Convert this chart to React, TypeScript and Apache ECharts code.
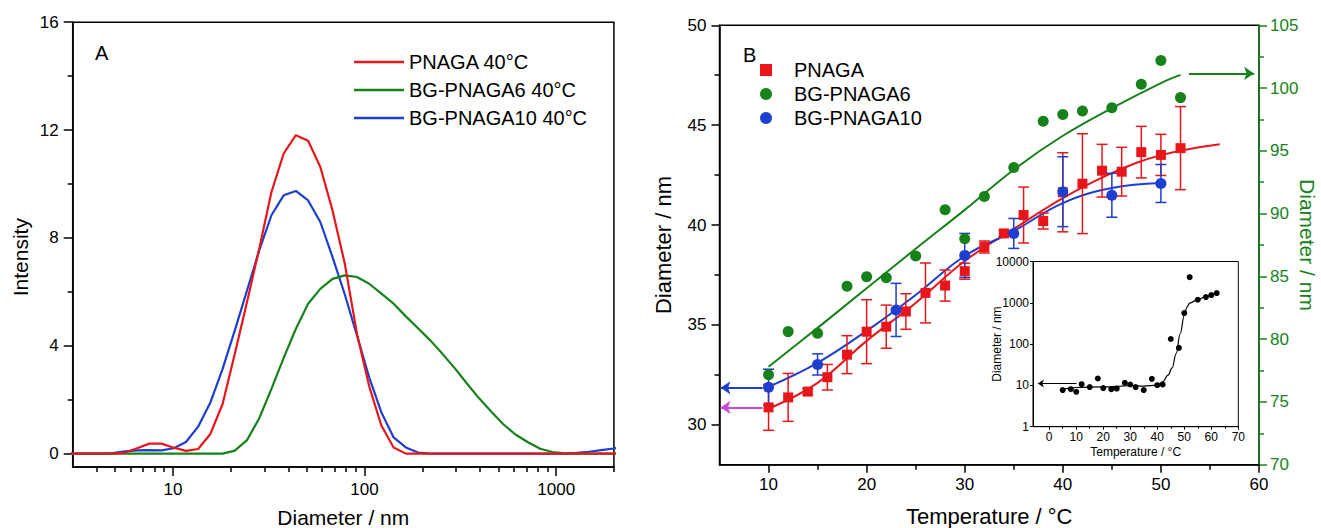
import React, { useEffect, useRef } from "react";
import * as echarts from "echarts";

const FONT = "'Liberation Sans', Arial, Helvetica, sans-serif";
const RED = "#e8161b";
const GREEN = "#17821a";
const BLUE = "#1d3ecf";
const MAGENTA = "#c84bd6";
const BLACK = "#000000";

// ---------- Panel A: DLS size distributions at 40 °C ----------
const dlsBins = [
  2.696, 3.122, 3.615, 4.187, 4.849, 5.615, 6.503, 7.531, 8.721, 10.1, 11.7, 13.54,
  15.69, 18.17, 21.04, 24.36, 28.21, 32.67, 37.84, 43.82, 50.75, 58.77, 68.06, 78.82,
  91.28, 105.7, 122.4, 141.8, 164.2, 190.1, 220.2, 255.0, 295.3, 342.0, 396.1, 458.7,
  531.2, 615.1, 712.4, 825.0, 955.4, 1106, 1281, 1484, 1718, 1990, 2305,
];
const pnagaIntensity = [
  0, 0, 0, 0, 0, 0.03, 0.2, 0.37, 0.37, 0.22, 0.1, 0.17,
  0.73, 1.84, 3.7, 5.62, 7.6, 9.7, 11.13, 11.81, 11.6, 10.63, 9.02, 7.05,
  4.45, 2.5, 1.04, 0.23, 0, 0, 0, 0, 0, 0, 0, 0,
  0, 0, 0, 0, 0, 0, 0, 0, 0, 0, 0,
];
const bg6Intensity = [
  0, 0, 0, 0, 0, 0, 0, 0, 0, 0, 0, 0,
  0, 0, 0.11, 0.5, 1.31, 2.4, 3.55, 4.63, 5.56, 6.11, 6.48, 6.61,
  6.55, 6.3, 5.93, 5.56, 5.09, 4.65, 4.2, 3.7, 3.17, 2.6, 2.05, 1.55,
  1.08, 0.7, 0.42, 0.18, 0.06, 0.01, 0, 0, 0, 0, 0,
];
const bg10Intensity = [
  0, 0, 0, 0, 0.02, 0.08, 0.12, 0.13, 0.12, 0.2, 0.43, 1.0,
  1.9, 3.14, 4.57, 6.05, 7.54, 8.84, 9.58, 9.74, 9.39, 8.59, 7.29, 5.91,
  4.38, 2.83, 1.53, 0.6, 0.23, 0.04, 0, 0, 0, 0, 0, 0,
  0, 0, 0, 0, 0, 0, 0.03, 0.07, 0.13, 0.19, 0.27,
];
const aLegend = ["PNAGA 40°C", "BG-PNAGA6 40°C", "BG-PNAGA10 40°C"];
const aMajorX = [10, 100, 1000];
const aMinorX = [4, 5, 6, 7, 8, 9, 20, 30, 40, 50, 60, 70, 80, 90, 200, 300, 400, 500, 600, 700, 800, 900, 2000];
const aMajorY = [0, 4, 8, 12, 16];
const aMinorY = [2, 6, 10, 14];

// ---------- Panel B: diameter vs temperature ----------
const pnagaTemp = [10, 12, 14, 16, 18, 20, 22, 24, 26, 28, 30, 32, 34, 36, 38, 40, 42, 44, 46, 48, 50, 52];
const pnagaDiam = [30.87, 31.37, 31.66, 32.38, 33.51, 34.66, 34.91, 35.67, 36.6, 36.97, 37.69, 38.9, 39.58, 40.5, 40.2, 41.64, 42.07, 42.72, 42.67, 43.65, 43.51, 43.85];
const pnagaErr = [1.15, 1.2, 0.15, 0.64, 0.95, 1.6, 1.08, 0.89, 1.5, 0.78, 0.4, 0.3, 0.15, 1.4, 0.4, 1.98, 2.5, 1.32, 1.22, 1.29, 1.03, 2.08];

const bg6Temp = [10, 12, 15, 18, 20, 22, 25, 28, 30, 32, 35, 38, 40, 42, 45, 48, 50, 52];
const bg6Diam = [77.17, 80.6, 80.47, 84.22, 84.97, 84.89, 86.63, 90.3, 88.0, 91.36, 93.67, 97.36, 97.9, 98.17, 98.44, 100.31, 102.19, 99.24];

const bg10Temp = [10, 15, 23, 30, 35, 40, 45, 50];
const bg10Diam = [31.88, 33.02, 35.75, 38.48, 39.58, 41.67, 41.49, 42.08];
const bg10Err = [0.9, 0.53, 1.33, 1.1, 0.75, 1.75, 1.1, 0.95];

const pnagaFitT = [10, 15, 20, 25, 30, 35, 40, 45, 50, 56];
const pnagaFitD = [30.8, 32.1, 34.2, 36.1, 38.2, 39.8, 41.35, 42.6, 43.5, 44.05];
const bg6FitT = [10, 15, 20, 25, 30, 35, 40, 45, 50, 52];
const bg6FitD = [77.8, 80.9, 84.05, 87.2, 90.3, 93.5, 96.2, 98.4, 100.4, 101.05];
const bg10FitT = [10, 15, 20, 25, 30, 35, 40, 45, 50];
const bg10FitD = [31.9, 33.1, 34.7, 36.5, 38.45, 39.7, 41.1, 41.85, 42.1];

const bLegend = ["PNAGA", "BG-PNAGA6", "BG-PNAGA10"];
const bMajorX = [10, 20, 30, 40, 50, 60];
const bMinorX = [15, 25, 35, 45, 55];
const bLeftMajor = [30, 35, 40, 45, 50];
const bLeftMinor = [32.5, 37.5, 42.5, 47.5];
const bRightMajor = [70, 75, 80, 85, 90, 95, 100, 105];
const bRightMinor = [72.5, 77.5, 82.5, 87.5, 92.5, 97.5, 102.5];

// ---------- Inset ----------
const insetTemp = [5, 8, 10, 12, 15, 18, 20, 23, 25, 28, 30, 32, 35, 38, 40, 42, 45, 48, 50, 52, 55, 58, 60, 62];
const insetDiam = [7.7, 8.1, 7.0, 10.7, 9.1, 14.7, 8.6, 8.1, 8.4, 11.5, 10.5, 9.1, 7.7, 14.4, 10.1, 10.5, 133, 81, 565, 4170, 1187, 1377, 1538, 1720];
const insetFitT = [5, 10, 20, 30, 35, 40, 42, 44, 45.5, 47, 48.5, 50, 51, 52, 55, 58, 62];
const insetFitD = [8.0, 8.9, 9.25, 9.8, 9.6, 10.1, 12.2, 17.7, 26.5, 59, 180, 500, 790, 980, 1200, 1430, 1720];
const insetMajorX = [0, 10, 20, 30, 40, 50, 60, 70];
const insetMinorX = [5, 15, 25, 35, 45, 55, 65];
const insetMajorY = [1, 10, 100, 1000, 10000];

const zip = (a: number[], b: number[]) => a.map((v, i) => [v, b[i]]);

function errorBar(color: string) {
  return (_params: any, api: any) => {
    const x = api.value(0);
    const y = api.value(1);
    const e = api.value(2);
    const top = api.coord([x, y + e]);
    const bot = api.coord([x, y - e]);
    const hw = 5.5;
    const style = { stroke: color, lineWidth: 1.5, fill: null };
    return {
      type: "group",
      children: [
        { type: "line", shape: { x1: top[0], y1: top[1], x2: bot[0], y2: bot[1] }, style },
        { type: "line", shape: { x1: top[0] - hw, y1: top[1], x2: top[0] + hw, y2: top[1] }, style },
        { type: "line", shape: { x1: bot[0] - hw, y1: bot[1], x2: bot[0] + hw, y2: bot[1] }, style },
      ],
    };
  };
}

function makeAxis(p: any) {
  const color = p.color || BLACK;
  const lw = p.lineWidth ?? 1.5;
  const ax: any = {
    gridIndex: p.gridIndex,
    type: p.type || "value",
    min: p.min,
    max: p.max,
    position: p.position,
    offset: 0,
    silent: true,
    axisLine: { show: !!p.line, onZero: false, lineStyle: { color, width: lw } },
    axisTick: { show: true, inside: false, length: p.length, customValues: p.values, lineStyle: { color, width: lw } },
    axisLabel: p.labels
      ? {
          show: true,
          customValues: p.values,
          fontSize: p.fontSize,
          color,
          fontFamily: FONT,
          margin: p.margin,
          formatter: (v: number) => String(Math.round(v * 100) / 100),
        }
      : { show: false },
    splitLine: { show: false },
    minorTick: { show: false },
    minorSplitLine: { show: false },
  };
  if (p.type === "log") ax.logBase = 10;
  if (p.name) {
    ax.name = p.name;
    ax.nameLocation = "middle";
    ax.nameGap = p.nameGap;
    ax.nameRotate = p.nameRotate;
    ax.nameMoveOverlap = false;
    ax.nameTextStyle = { fontSize: p.nameSize, color, fontFamily: FONT, padding: p.namePadding || 0 };
  }
  return ax;
}

function buildOption(): any {
  const xAxis = [
    makeAxis({ gridIndex: 0, type: "log", min: 3, max: 2000, position: "bottom", line: true, values: aMajorX, length: 9, labels: true, fontSize: 17, margin: 14, name: "Diameter / nm", nameGap: 40, nameSize: 21 }),
    makeAxis({ gridIndex: 0, type: "log", min: 3, max: 2000, position: "bottom", values: aMinorX, length: 5 }),
    makeAxis({ gridIndex: 1, min: 5, max: 60, position: "bottom", line: true, values: bMajorX, length: 8, labels: true, fontSize: 17, margin: 11, name: "Temperature / °C", nameGap: 41, nameSize: 22 }),
    makeAxis({ gridIndex: 1, min: 5, max: 60, position: "bottom", values: bMinorX, length: 5 }),
    makeAxis({ gridIndex: 2, min: -6, max: 70, position: "bottom", line: true, values: insetMajorX, length: 3, lineWidth: 1, labels: true, fontSize: 12, margin: 4, name: "Temperature / °C", nameGap: 19, nameSize: 12 }),
    makeAxis({ gridIndex: 2, min: -6, max: 70, position: "bottom", values: insetMinorX, length: 2, lineWidth: 1 }),
  ];
  const yAxis = [
    makeAxis({ gridIndex: 0, min: -0.5, max: 16, position: "left", line: true, values: aMajorY, length: 9, labels: true, fontSize: 17, margin: 14, name: "Intensity", nameGap: 42, nameSize: 21, nameRotate: 90, namePadding: [0, 25, 0, 0] }),
    makeAxis({ gridIndex: 0, min: -0.5, max: 16, position: "left", values: aMinorY, length: 5 }),
    makeAxis({ gridIndex: 1, min: 28, max: 50, position: "left", line: true, values: bLeftMajor, length: 8, labels: true, fontSize: 17, margin: 13, name: "Diameter / nm", nameGap: 45, nameSize: 22, nameRotate: 90 }),
    makeAxis({ gridIndex: 1, min: 28, max: 50, position: "left", values: bLeftMinor, length: 5 }),
    makeAxis({ gridIndex: 1, min: 70, max: 105, position: "right", line: true, color: GREEN, values: bRightMajor, length: 8, labels: true, fontSize: 17, margin: 11, name: "Diameter / nm", nameGap: 38, nameSize: 21, nameRotate: -90 }),
    makeAxis({ gridIndex: 1, min: 70, max: 105, position: "right", color: GREEN, values: bRightMinor, length: 5 }),
    makeAxis({ gridIndex: 2, type: "log", min: 1, max: 10000, position: "left", line: true, values: insetMajorY, length: 3, lineWidth: 1, labels: true, fontSize: 12, margin: 4, name: "Diameter / nm", nameGap: 30, nameSize: 12, nameRotate: 90 }),
  ];

  const lineA = (name: string, data: number[], color: string, z: number) => ({
    type: "line",
    name,
    xAxisIndex: 0,
    yAxisIndex: 0,
    data: zip(dlsBins, data),
    symbol: "none",
    showSymbol: false,
    color,
    lineStyle: { color, width: 2.2 },
    z,
    clip: true,
    silent: true,
  });

  const arrow = (color: string, from: number[], to: number[], width = 2, size = 10) => ({
    silent: true,
    animation: false,
    symbol: ["none", "arrow"],
    symbolSize: size,
    label: { show: false },
    emphasis: { disabled: true },
    lineStyle: { color, width, type: "solid" },
    data: [[{ coord: from }, { coord: to }]],
  });

  const fit = (name: string, t: number[], d: number[], color: string, yIdx: number, mark: any, xIdx = 2, width = 2, monotone = false) => {
    const s: any = {
      type: "line",
      name,
      xAxisIndex: xIdx,
      yAxisIndex: yIdx,
      data: zip(t, d),
      symbol: "none",
      showSymbol: false,
      smooth: 0.4,
      color,
      lineStyle: { color, width },
      z: 2,
      silent: true,
      markLine: mark,
    };
    if (monotone) s.smoothMonotone = "x";
    return s;
  };

  const scatter = (name: string, t: number[], d: number[], color: string, yIdx: number, symbol: string, size: number, z: number, xIdx = 2) => ({
    type: "scatter",
    name,
    xAxisIndex: xIdx,
    yAxisIndex: yIdx,
    data: zip(t, d),
    symbol,
    symbolSize: size,
    itemStyle: { color, opacity: 1 },
    z,
    silent: true,
  });

  const series: any[] = [
    lineA(aLegend[0], pnagaIntensity, RED, 5),
    lineA(aLegend[1], bg6Intensity, GREEN, 4),
    lineA(aLegend[2], bg10Intensity, BLUE, 3),

    fit("PNAGA fit", pnagaFitT, pnagaFitD, RED, 2, arrow(MAGENTA, [9.4, 30.87], [5.1, 30.87])),
    fit("BG-PNAGA10 fit", bg10FitT, bg10FitD, BLUE, 2, arrow(BLUE, [9.4, 31.85], [5.1, 31.85])),
    fit("BG-PNAGA6 fit", bg6FitT, bg6FitD, GREEN, 4, arrow(GREEN, [52.85, 101.17], [59.5, 101.17])),

    {
      type: "custom",
      name: "PNAGA err",
      xAxisIndex: 2,
      yAxisIndex: 2,
      data: pnagaTemp.map((t, i) => [t, pnagaDiam[i], pnagaErr[i]]),
      encode: { x: 0, y: 1 },
      renderItem: errorBar(RED),
      z: 3,
      silent: true,
    },
    {
      type: "custom",
      name: "BG-PNAGA10 err",
      xAxisIndex: 2,
      yAxisIndex: 2,
      data: bg10Temp.map((t, i) => [t, bg10Diam[i], bg10Err[i]]),
      encode: { x: 0, y: 1 },
      renderItem: errorBar(BLUE),
      z: 4,
      silent: true,
    },
    scatter(bLegend[0], pnagaTemp, pnagaDiam, RED, 2, "rect", 10, 5),
    scatter(bLegend[1], bg6Temp, bg6Diam, GREEN, 4, "circle", 11, 5),
    scatter(bLegend[2], bg10Temp, bg10Diam, BLUE, 2, "circle", 11, 6),

    fit("Inset fit", insetFitT, insetFitD, BLACK, 6, arrow(BLACK, [10.1, 11.1], [-4.2, 11.1], 1, 6), 4, 1.2, true),
    scatter("Inset", insetTemp, insetDiam, BLACK, 6, "circle", 6, 5, 4),
  ];

  return {
    animation: false,
    backgroundColor: "#ffffff",
    textStyle: { fontFamily: FONT },
    title: [
      { text: "A", left: 90, top: 38, textStyle: { fontSize: 20, fontWeight: "normal", color: BLACK, fontFamily: FONT } },
      { text: "B", left: 738, top: 40, textStyle: { fontSize: 20, fontWeight: "normal", color: BLACK, fontFamily: FONT } },
    ],
    legend: [
      {
        data: aLegend,
        orient: "vertical",
        left: 349,
        top: 47,
        icon: "rect",
        itemWidth: 50,
        itemHeight: 2.5,
        itemGap: 8,
        selectedMode: false,
        textStyle: { fontSize: 20, color: BLACK, fontFamily: FONT },
      },
      {
        data: [
          { name: bLegend[0], icon: "path://M0 0H10V10H0Z" },
          { name: bLegend[1], icon: "circle" },
          { name: bLegend[2], icon: "circle" },
        ],
        orient: "vertical",
        left: 755,
        top: 55,
        itemWidth: 46,
        itemHeight: 12,
        itemGap: 4,
        symbolKeepAspect: true,
        selectedMode: false,
        itemStyle: { opacity: 1 },
        textStyle: { fontSize: 20, color: BLACK, fontFamily: FONT },
      },
    ],
    grid: [
      { left: 72.7, top: 22.2, width: 541.2, height: 444.9, show: true, borderColor: BLACK, borderWidth: 1.5, backgroundColor: "transparent", containLabel: false, outerBoundsMode: "none" },
      { left: 719.5, top: 25.3, width: 539.5, height: 439.4, show: true, borderColor: BLACK, borderWidth: 1.5, backgroundColor: "transparent", containLabel: false, outerBoundsMode: "none" },
      { left: 1033, top: 261.5, width: 205.3, height: 165.2, show: true, borderColor: BLACK, borderWidth: 1, backgroundColor: "#ffffff", containLabel: false, outerBoundsMode: "none" },
    ],
    xAxis,
    yAxis,
    series,
  };
}

export default function App() {
  const ref = useRef<HTMLDivElement>(null);
  useEffect(() => {
    if (!ref.current) return;
    const chart = echarts.init(ref.current, undefined, { renderer: "svg" });
    chart.setOption(buildOption());
    return () => chart.dispose();
  }, []);
  return (
    <div
      ref={ref}
      style={{ position: "fixed", left: 0, top: 0, width: "1321px", height: "528px", background: "#fff" }}
    />
  );
}
